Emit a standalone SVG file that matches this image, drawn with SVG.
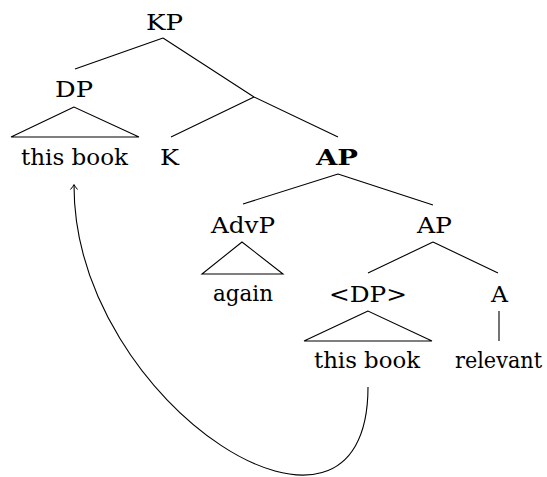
<svg xmlns="http://www.w3.org/2000/svg" width="547" height="477" viewBox="0 0 547 477">
<style>
.e{fill:none;stroke:#000;stroke-width:1.1}
</style>
<defs>
<marker id="arr" viewBox="-6 -5 8 10" markerWidth="8" markerHeight="10" refX="0" refY="0" orient="auto" markerUnits="userSpaceOnUse">
<path d="M-4.5,-3.5 Q-1.5,-1 0.5,0 Q-1.5,1 -4.5,3.5" fill="none" stroke="#000" stroke-width="1"/>
</marker>
</defs>
<rect width="547" height="477" fill="#fff"/>
<g id="connectors">
<path class="e" d="M163,38 L75,69 M163,38 L254,97 M254,97 L171,137 M254,97 L338,137"/>
<path class="e" d="M74,107 L11,137 L139,137 Z"/>
<path class="e" d="M338,174 L243,204 M338,174 L433,205"/>
<path class="e" d="M242,242 L202,274 L283,274 Z"/>
<path class="e" d="M433,242 L368,273 M433,242 L498,273"/>
<path class="e" d="M368,311 L304,341 L432,341 Z"/>
<path class="e" d="M499,311 L499,341"/>
<path class="e" d="M368,387 C368,591 74,406 74,185" marker-end="url(#arr)"/>
</g>
<g id="KP"><text font-family="DejaVu Serif" font-size="22" text-anchor="middle" x="164.5" y="30" textLength="37" lengthAdjust="spacingAndGlyphs">KP</text></g>
<g id="DP"><text font-family="DejaVu Serif" font-size="22" text-anchor="middle" x="74" y="97" textLength="38" lengthAdjust="spacingAndGlyphs">DP</text></g>
<g id="this-book-1"><text font-family="DejaVu Serif" font-size="22" text-anchor="middle" x="74.5" y="165" textLength="107" lengthAdjust="spacingAndGlyphs">this book</text></g>
<g id="K"><text font-family="DejaVu Serif" font-size="22" text-anchor="middle" x="169.5" y="165" textLength="19" lengthAdjust="spacingAndGlyphs">K</text></g>
<g id="AP-bold"><text font-family="DejaVu Serif" font-size="22" font-weight="bold" text-anchor="middle" x="337" y="165" textLength="42" lengthAdjust="spacingAndGlyphs">AP</text></g>
<g id="AdvP"><text font-family="DejaVu Serif" font-size="22" text-anchor="middle" x="243" y="233" textLength="64" lengthAdjust="spacingAndGlyphs">AdvP</text></g>
<g id="AP"><text font-family="DejaVu Serif" font-size="22" text-anchor="middle" x="434.5" y="233" textLength="35" lengthAdjust="spacingAndGlyphs">AP</text></g>
<g id="again"><text font-family="DejaVu Serif" font-size="22" text-anchor="middle" x="243" y="301" textLength="60" lengthAdjust="spacingAndGlyphs">again</text></g>
<g id="DP-trace"><text font-family="DejaVu Serif" font-size="22" text-anchor="middle" x="368" y="301.5" textLength="78" lengthAdjust="spacingAndGlyphs">&lt;DP&gt;</text></g>
<g id="A"><text font-family="DejaVu Serif" font-size="22" text-anchor="middle" x="499.5" y="301.5" textLength="17" lengthAdjust="spacingAndGlyphs">A</text></g>
<g id="this-book-2"><text font-family="DejaVu Serif" font-size="22" text-anchor="middle" x="367" y="368" textLength="106" lengthAdjust="spacingAndGlyphs">this book</text></g>
<g id="relevant"><text font-family="DejaVu Serif" font-size="22" text-anchor="middle" x="498.5" y="368" textLength="87" lengthAdjust="spacingAndGlyphs">relevant</text></g>
</svg>
